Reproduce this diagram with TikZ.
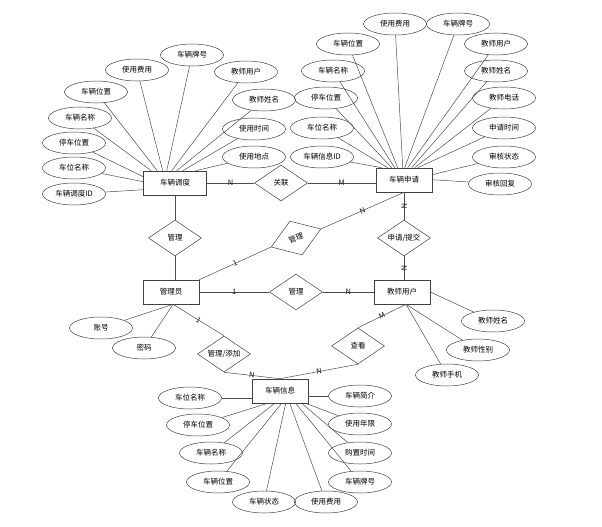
\documentclass[tikz,border=0pt]{standalone}
\usepackage{fontspec}
\setmainfont{Noto Sans CJK SC}
\usetikzlibrary{shapes.geometric}
\tikzset{
  ent/.style={draw=black!75, line width=0.6pt, rectangle, minimum width=56pt, minimum height=24pt, inner sep=0pt, font=\fontsize{7.5}{9}\selectfont},
  att/.style={draw=black!75, line width=0.5pt, ellipse, minimum width=63pt, minimum height=22pt, inner sep=0pt, font=\fontsize{7.5}{9}\selectfont},
  rel/.style={draw=black!75, line width=0.5pt, diamond, aspect=1.45, minimum width=53pt, minimum height=36pt, inner sep=0pt, font=\fontsize{7.5}{9}\selectfont},
  ln/.style={draw=black!70, line width=0.5pt},
  lbl/.style={font=\fontsize{7.5}{8}\selectfont, inner sep=0.5pt, text=black!90}
}
\begin{document}
\begin{tikzpicture}[x=1pt,y=-1pt]
\useasboundingbox (0,0) rectangle (602,527);
% entities
\node[ent, minimum width=63pt] (dd) at (175,183) {车辆调度};
\node[ent] (sq) at (404,180) {车辆申请};
\node[ent] (gly) at (171,292) {管理员};
\node[ent] (js) at (402,292) {教师用户};
\node[ent] (xx) at (280,391) {车辆信息};
% relations
\node[rel] (gl) at (281,183) {关联};
\node[rel] (gl1) at (175,238) {管理};
\node[rel, rotate=20] (gl2) at (296,238) {管理};
\node[rel] (gl3) at (296,292) {管理};
\node[rel] (tj) at (404,238) {申请/提交};
\node[rel] (tjia) at (224,354) {管理/添加};
\node[rel] (ck) at (358,346) {查看};
% attributes of 车辆调度
\node[att] (d1) at (192,55) {车辆牌号};
\node[att] (d2) at (137,70) {使用费用};
\node[att] (d3) at (246,72) {教师用户};
\node[att] (d4) at (96,92) {车辆位置};
\node[att] (d5) at (264,100) {教师姓名};
\node[att] (d6) at (80,118) {车辆名称};
\node[att] (d7) at (254,129) {使用时间};
\node[att] (d8) at (74,143) {停车位置};
\node[att] (d9) at (254,157) {使用地点};
\node[att] (d10) at (74,168) {车位名称};
\node[att] (d11) at (74,194) {车辆调度ID};
\draw[ln] (d6) -- ([xshift=8pt]dd.north west);
\draw[ln] (d4) -- ([xshift=14pt]dd.north west);
\draw[ln] (d2) -- ([xshift=19.5pt]dd.north west);
\draw[ln] (d1) -- ([xshift=23.5pt]dd.north west);
\draw[ln] (d3) -- ([xshift=28.5pt]dd.north west);
\draw[ln] (d5) -- ([xshift=33.5pt]dd.north west);
\draw[ln] (d7) -- ([xshift=39.5pt]dd.north west);
\draw[ln] (d9) -- ([xshift=52.5pt]dd.north west);
\draw[ln] (d8) -- ([yshift=-6pt]dd.north west);
\draw[ln] (d10) -- ([yshift=-11pt]dd.north west);
\draw[ln] (d11) -- ([yshift=-19pt]dd.north west);
% attributes of 车辆申请
\node[att] (s1) at (395,24) {使用费用};
\node[att] (s2) at (458,24) {车辆牌号};
\node[att] (s3) at (348,44) {车辆位置};
\node[att] (s4) at (496,44) {教师用户};
\node[att] (s5) at (333,71) {车辆名称};
\node[att] (s6) at (496,71) {教师姓名};
\node[att] (s7) at (326,98) {停车位置};
\node[att] (s8) at (504,98) {教师电话};
\node[att] (s9) at (322,128) {车位名称};
\node[att] (s10) at (504,128) {申请时间};
\node[att] (s11) at (322,157) {车辆信息ID};
\node[att] (s12) at (504,157) {审核状态};
\node[att] (s13) at (500,184) {审核回复};
\draw[ln] (s11) -- ([xshift=6pt]sq.north west);
\draw[ln] (s9) -- ([xshift=12pt]sq.north west);
\draw[ln] (s7) -- ([xshift=16pt]sq.north west);
\draw[ln] (s5) -- ([xshift=19pt]sq.north west);
\draw[ln] (s3) -- ([xshift=22pt]sq.north west);
\draw[ln] (s1) -- ([xshift=27pt]sq.north west);
\draw[ln] (s2) -- ([xshift=29pt]sq.north west);
\draw[ln] (s4) -- ([xshift=32pt]sq.north west);
\draw[ln] (s6) -- ([xshift=36pt]sq.north west);
\draw[ln] (s8) -- ([xshift=39pt]sq.north west);
\draw[ln] (s10) -- ([xshift=42pt]sq.north west);
\draw[ln] (s12) -- ([yshift=-7pt]sq.north east);
\draw[ln] (s13) -- ([yshift=-12pt]sq.north east);
% attributes of 管理员
\node[att] (g1) at (101,328) {账号};
\node[att] (g2) at (144,348) {密码};
\draw[ln] (g1) -- ([xshift=2pt]gly.south);
\draw[ln] (g2) -- ([xshift=2pt]gly.south);
% attributes of 教师用户
\node[att] (j1) at (493,321) {教师姓名};
\node[att] (j2) at (478,350) {教师性别};
\node[att] (j3) at (447,375) {教师手机};
\draw[ln] (j1) -- (js.east);
\draw[ln] (j2) -- ([xshift=4pt]js.south);
\draw[ln] (j3) -- ([xshift=4pt]js.south);
% attributes of 车辆信息
\node[att] (x1) at (190,398) {车位名称};
\node[att] (x2) at (360,396) {车辆简介};
\node[att] (x3) at (198,425) {停车位置};
\node[att] (x4) at (360,424) {使用年限};
\node[att] (x5) at (211,453) {车辆名称};
\node[att] (x6) at (360,453) {购置时间};
\node[att] (x7) at (218,482) {车辆位置};
\node[att] (x8) at (360,482) {车辆牌号};
\node[att] (x9) at (264,502) {车辆状态};
\node[att] (x10) at (326,502) {使用费用};
\draw[ln] (x1) -- (x1 -| xx.west);
\draw[ln] (x2) -- (x2 -| xx.east);
\draw[ln] (x3) -- ([xshift=16pt]xx.south west);
\draw[ln] (x5) -- ([xshift=23pt]xx.south west);
\draw[ln] (x7) -- ([xshift=30pt]xx.south west);
\draw[ln] (x9) -- ([xshift=34pt]xx.south west);
\draw[ln] (x10) -- ([xshift=38pt]xx.south west);
\draw[ln] (x8) -- ([xshift=44pt]xx.south west);
\draw[ln] (x6) -- ([xshift=50pt]xx.south west);
\draw[ln] (x4) -- ([xshift=54pt]xx.south west);
% relationship connectors
\draw[ln] (dd.east) -- node[lbl, midway] {N} (gl.west);
\draw[ln] (gl.east) -- node[lbl, midway] {M} (gl.east -| sq.west);
\draw[ln] (dd.south) -- (gl1.north);
\draw[ln] (gl1.south) -- (gl1.south |- gly.north);
\draw[ln] (gly.north east) -- node[lbl, midway, sloped] {1} (gl2.west);
\draw[ln] (gl2.east) -- node[lbl, midway, sloped] {N} (sq.south);
\draw[ln] (sq.south) -- node[lbl, midway, sloped] {N} (tj.north);
\draw[ln] (tj.south) -- node[lbl, midway, sloped] {N} (tj.south |- js.north);
\draw[ln] (gly.east) -- node[lbl, midway] {1} (gl3.west);
\draw[ln] (gl3.east) -- node[lbl, midway] {N} (js.west);
\draw[ln] ([xshift=2pt]gly.south) -- node[lbl, midway, sloped] {1} (tjia.north);
\draw[ln] (tjia.south) -- node[lbl, midway, sloped] {N} (xx.north);
\draw[ln] ([xshift=4pt]js.south) -- node[lbl, midway, sloped] {M} (ck.north);
\draw[ln] (ck.south) -- node[lbl, midway, sloped] {N} (xx.north);
\end{tikzpicture}
\end{document}
